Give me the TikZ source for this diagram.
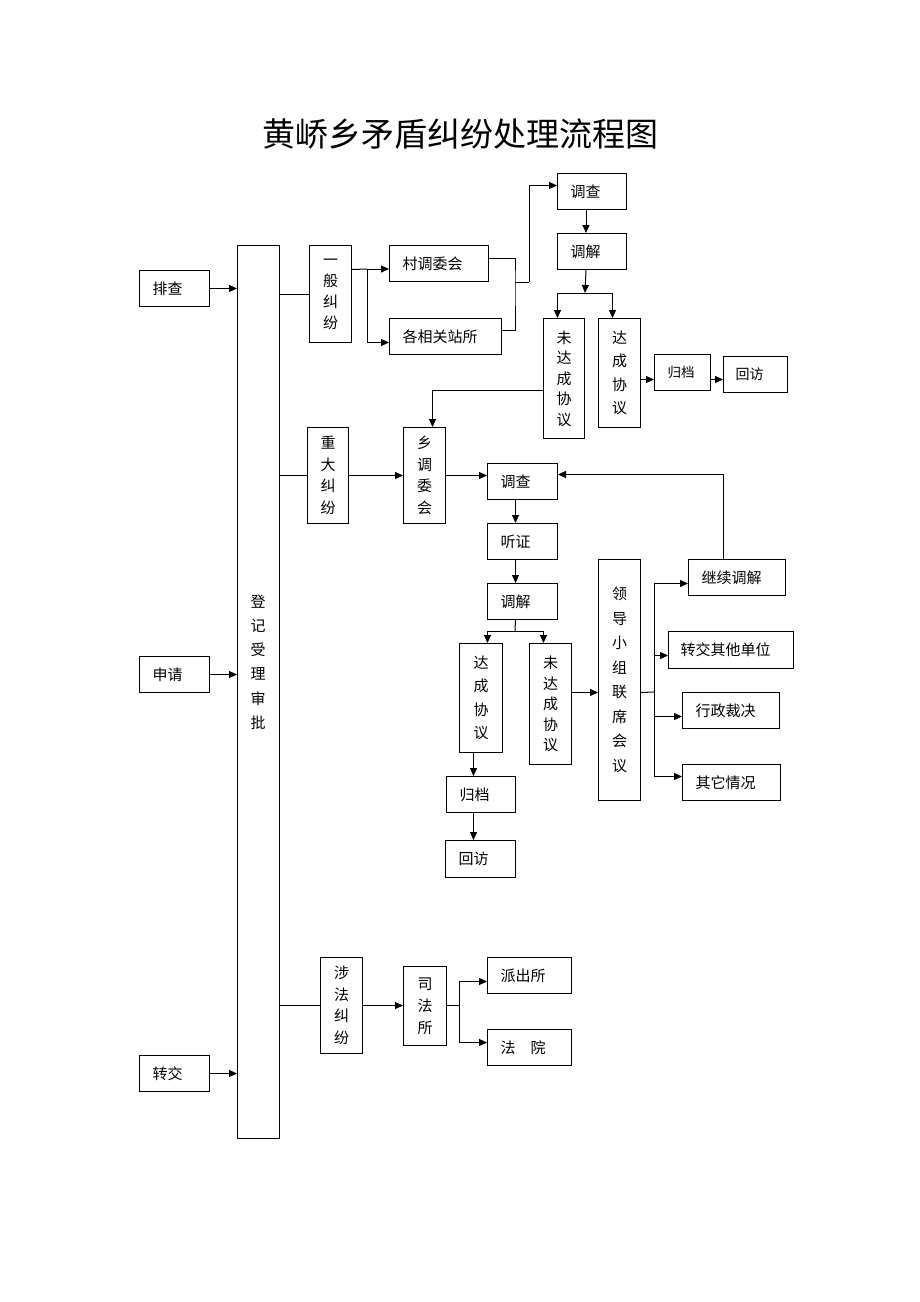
\documentclass[tikz,border=0pt]{standalone}
\usepackage{fontspec}
\setmainfont{Noto Sans CJK SC}
\usetikzlibrary{arrows.meta,calc}
\tikzset{
  bx/.style={draw, line width=1pt, anchor=north west, inner ysep=0pt},
  hbox/.style={bx, inner xsep=13pt, align=left, font=\fontsize{15}{18}\selectfont},
  vbox/.style={bx, inner xsep=0pt, align=center, font=\fontsize{15}{22}\selectfont},
  ln/.style={line width=1pt},
  arr/.style={line width=1pt, -{Triangle[length=8pt,width=7pt]}},
}
\begin{document}
\begin{tikzpicture}[x=1pt,y=-1pt]
\path[use as bounding box] (0,0) rectangle (920,1302);
\node[font=\fontsize{33}{36}\selectfont] (title) at (460,134) {黄峤乡矛盾纠纷处理流程图};

% left inputs
\node[hbox, text width=44pt, minimum height=36pt] (pc) at (139,270) {排查};
\node[hbox, text width=44pt, minimum height=36pt] (sq) at (139,656) {申请};
\node[hbox, text width=44pt, minimum height=36pt] (zjin) at (139,1055) {转交};
\node[bx, minimum width=42pt, minimum height=893pt] (reg) at (237,245) {};
\node[font=\fontsize{15}{24.2}\selectfont, align=center, inner sep=0pt] (regt) at (258,662) {登\\记\\受\\理\\审\\批};

\draw[arr] (pc.east) -- (pc.east -| reg.west);
\draw[arr] (sq.east) -- (sq.east -| reg.west);
\draw[arr] (zjin.east) -- (zjin.east -| reg.west);

% general disputes
\node[vbox, minimum width=42pt, minimum height=97pt, font=\fontsize{15}{21}\selectfont] (yb) at (309,245) {一\\般\\纠\\纷};
\node[hbox, text width=73pt, minimum height=36pt] (cun) at (389,245) {村调委会};
\node[hbox, text width=86pt, minimum height=36pt] (zhan) at (389,318) {各相关站所};
\node[hbox, text width=43pt, minimum height=36pt] (dc1) at (557,173) {调查};
\node[hbox, text width=43pt, minimum height=36pt] (tj1) at (557,233) {调解};
\node[vbox, minimum width=41pt, minimum height=120pt, font=\fontsize{15}{20.5}\selectfont] (wd1) at (543,318) {未\\达\\成\\协\\议};
\node[vbox, minimum width=42pt, minimum height=109pt, font=\fontsize{15}{23.5}\selectfont] (dd1) at (598,318) {达\\成\\协\\议};
\node[hbox, inner xsep=13pt, text width=30pt, minimum height=36pt, font=\fontsize{13.5}{16}\selectfont] (gd1) at (654,354) {归档};
\node[hbox, inner xsep=12pt, text width=40pt, minimum height=36pt, font=\fontsize{14}{16}\selectfont] (hf1) at (723,356) {回访};

\draw[ln] (yb.west -| reg.east) -- (yb.west);
\coordinate (b1) at (367,269);
\draw[ln] ([yshift=24.5pt]yb.east) -- (b1);
\draw[arr] (b1) -- (b1 -| cun.west);
\draw[arr] (b1) |- ([yshift=-6pt]zhan.west);
\coordinate (m1) at (515,282);
\draw[ln] ([yshift=5pt]cun.east) -| (m1) |- ([yshift=6pt]zhan.east);
\draw[ln] (m1) -- ++(14,0) coordinate (m1b);
\draw[arr] (m1b) |- ([yshift=6pt]dc1.west);
\draw[arr] ([xshift=-6pt]dc1.south) -- ([xshift=-6pt]tj1.north);
\coordinate (s1) at (585,293);
\draw[arr] ([xshift=-6pt]tj1.south) -- (s1);
\draw[ln] ([xshift=-6.5pt]wd1.north |- s1) -- ([xshift=-7pt]dd1.north |- s1);
\draw[arr] ([xshift=-6.5pt]wd1.north |- s1) -- ([xshift=-6.5pt]wd1.north);
\draw[arr] ([xshift=-7pt]dd1.north |- s1) -- ([xshift=-7pt]dd1.north);
\draw[arr] ([yshift=-6.5pt]dd1.east) -- ([yshift=-6.5pt]dd1.east -| gd1.west);
\draw[arr] ([yshift=-7pt]gd1.east) -- ([yshift=-7pt]gd1.east -| hf1.west);

% major disputes
\node[vbox, minimum width=41pt, minimum height=96pt, font=\fontsize{15}{21.5}\selectfont] (zd) at (307,427) {重\\大\\纠\\纷};
\node[vbox, minimum width=42pt, minimum height=96pt, font=\fontsize{15}{21.5}\selectfont] (xt) at (403,427) {乡\\调\\委\\会};
\node[hbox, text width=44pt, minimum height=36pt] (dc2) at (487,463) {调查};
\node[hbox, text width=44pt, minimum height=36pt] (tz) at (487,523) {听证};
\node[hbox, text width=44pt, minimum height=36pt] (tj2) at (487,583) {调解};
\node[vbox, minimum width=43pt, minimum height=109pt, font=\fontsize{15}{23.5}\selectfont] (dd2) at (459,643) {达\\成\\协\\议};
\node[vbox, minimum width=42pt, minimum height=121pt, font=\fontsize{15}{20.5}\selectfont] (wd2) at (529,643) {未\\达\\成\\协\\议};
\node[hbox, text width=43pt, minimum height=36pt] (gd2) at (446,776) {归档};
\node[hbox, text width=44pt, minimum height=37pt] (hf2) at (445,840) {回访};
\node[vbox, minimum width=42pt, minimum height=241pt, font=\fontsize{15}{24.5}\selectfont] (ld) at (598,559) {领\\导\\小\\组\\联\\席\\会\\议};
\node[hbox, text width=71pt, minimum height=36pt] (jx) at (688,559) {继续调解};
\node[hbox, inner xsep=12pt, text width=101pt, minimum height=37pt] (zj) at (668,631) {转交其他单位};
\node[hbox, text width=71pt, minimum height=36pt] (xz) at (682,692) {行政裁决};
\node[hbox, text width=72pt, minimum height=36pt] (qt) at (682,764) {其它情况};

\draw[ln] (zd.west -| reg.east) -- (zd.west);
\draw[arr] (zd.east) -- (zd.east -| xt.west);
\draw[arr] ([yshift=-12pt]wd1.west) -| ([xshift=8pt]xt.north);
\draw[arr] (xt.east) -- (xt.east -| dc2.west);
\draw[arr] ([xshift=-7pt]dc2.south) -- ([xshift=-7pt]tz.north);
\draw[arr] ([xshift=-7pt]tz.south) -- ([xshift=-7pt]tj2.north);
\coordinate (s2) at (515,631);
\draw[ln] ([xshift=-7pt]tj2.south) -- (s2);
\draw[ln] ([xshift=6.5pt]dd2.north |- s2) -- ([xshift=-7pt]wd2.north |- s2);
\draw[arr] ([xshift=6.5pt]dd2.north |- s2) -- ([xshift=6.5pt]dd2.north);
\draw[arr] ([xshift=-7pt]wd2.north |- s2) -- ([xshift=-7pt]wd2.north);
\draw[arr] ([xshift=-7.5pt]dd2.south) -- ([xshift=-7.5pt]dd2.south |- gd2.north);
\draw[arr] ([xshift=-7.5pt]gd2.south) -- ([xshift=-7.5pt]gd2.south |- hf2.north);
\draw[arr] ([yshift=11.5pt]wd2.east) -- ([yshift=11.5pt]wd2.east -| ld.west);
\coordinate (j2) at (654,692);
\draw[ln] ([yshift=-12.5pt]ld.east) -- (j2);
\draw[ln] ([yshift=-6pt]jx.west -| j2) -- ([yshift=6pt]qt.west -| j2);
\draw[arr] ([yshift=-6pt]jx.west -| j2) -- ([yshift=-6pt]jx.west);
\draw[arr] ([yshift=-5.5pt]zj.west -| j2) -- ([yshift=-5.5pt]zj.west);
\draw[arr] ([yshift=-6pt]xz.west -| j2) -- ([yshift=-6pt]xz.west);
\draw[arr] ([yshift=6pt]qt.west -| j2) -- ([yshift=6pt]qt.west);
\draw[arr] ([xshift=-13.5pt]jx.north) |- ([yshift=7pt]dc2.east);

% legal disputes
\node[vbox, minimum width=42pt, minimum height=96pt, font=\fontsize{15}{21.5}\selectfont] (sf) at (320,957) {涉\\法\\纠\\纷};
\node[vbox, minimum width=43pt, minimum height=79pt, font=\fontsize{15}{22}\selectfont] (sfs) at (403,966) {司\\法\\所};
\node[hbox, text width=58pt, minimum height=36pt] (pcs) at (487,957) {派出所};
\node[hbox, text width=58pt, minimum height=36pt] (fy) at (487,1029) {法\hspace{1em}院};

\draw[ln] (sf.west -| reg.east) -- (sf.west);
\draw[arr] (sf.east) -- (sf.east -| sfs.west);
\coordinate (j3) at (459,1005);
\draw[ln] (sfs.east |- j3) -- (j3);
\draw[arr] (j3) |- ([yshift=-6pt]pcs.west);
\draw[arr] (j3) |- ([yshift=5pt]fy.west);
\end{tikzpicture}
\end{document}
